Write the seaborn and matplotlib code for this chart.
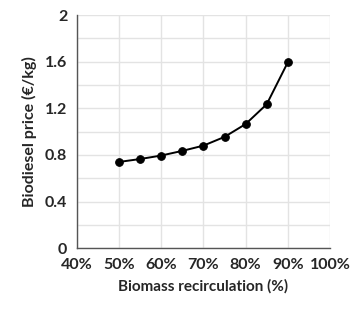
import numpy as np
import pandas as pd
import matplotlib
matplotlib.use("Agg")
import matplotlib.pyplot as plt
import seaborn as sns
from matplotlib.ticker import FuncFormatter, MultipleLocator

recirculation = [0.50, 0.55, 0.60, 0.65, 0.70, 0.75, 0.80, 0.85, 0.90]
price = [0.74, 0.765, 0.795, 0.835, 0.88, 0.955, 1.065, 1.235, 1.595]

sns.set_theme(style="white")
plt.rcParams["font.family"] = ["Lato", "DejaVu Sans"]
plt.rcParams["font.weight"] = "bold"

df = pd.DataFrame({"recirculation": recirculation, "price": price})

fig = plt.figure(figsize=(3.64, 3.09), dpi=100)
ax = fig.add_axes([0.2115, 0.197, 0.695, 0.754])

sns.lineplot(data=df, x="recirculation", y="price", ax=ax, color="black",
             linewidth=1.4, marker="o", markersize=5.5, markeredgecolor="black")

ax.set_xlim(0.40, 1.00)
ax.set_ylim(0, 2)
ax.xaxis.set_major_locator(MultipleLocator(0.1))
ax.yaxis.set_major_locator(MultipleLocator(0.4))
ax.yaxis.set_minor_locator(MultipleLocator(0.2))
ax.xaxis.set_major_formatter(FuncFormatter(lambda v, p: f"{v * 100:.0f}%"))
ax.yaxis.set_major_formatter(FuncFormatter(lambda v, p: f"{v:g}"))

ax.grid(True, which="both", color="#e3e3e3", linewidth=1.0)
ax.set_axisbelow(True)
for s in ["top", "right"]:
    ax.spines[s].set_visible(False)
for s in ["left", "bottom"]:
    ax.spines[s].set_color("#555555")
    ax.spines[s].set_linewidth(1.0)
ax.tick_params(axis="both", which="major", direction="out", length=4, width=1,
               color="#555555", labelsize=11.5, pad=3)
ax.tick_params(axis="both", which="minor", length=0)
for lab in ax.get_xticklabels() + ax.get_yticklabels():
    lab.set_fontweight("bold")

ax.set_xlabel("Biomass recirculation (%)", fontsize=11, fontweight="bold", labelpad=5)
ax.set_ylabel("Biodiesel price (€/kg)", fontsize=11.5, fontweight="bold", labelpad=6)

fig.savefig("out.png", dpi=100)
